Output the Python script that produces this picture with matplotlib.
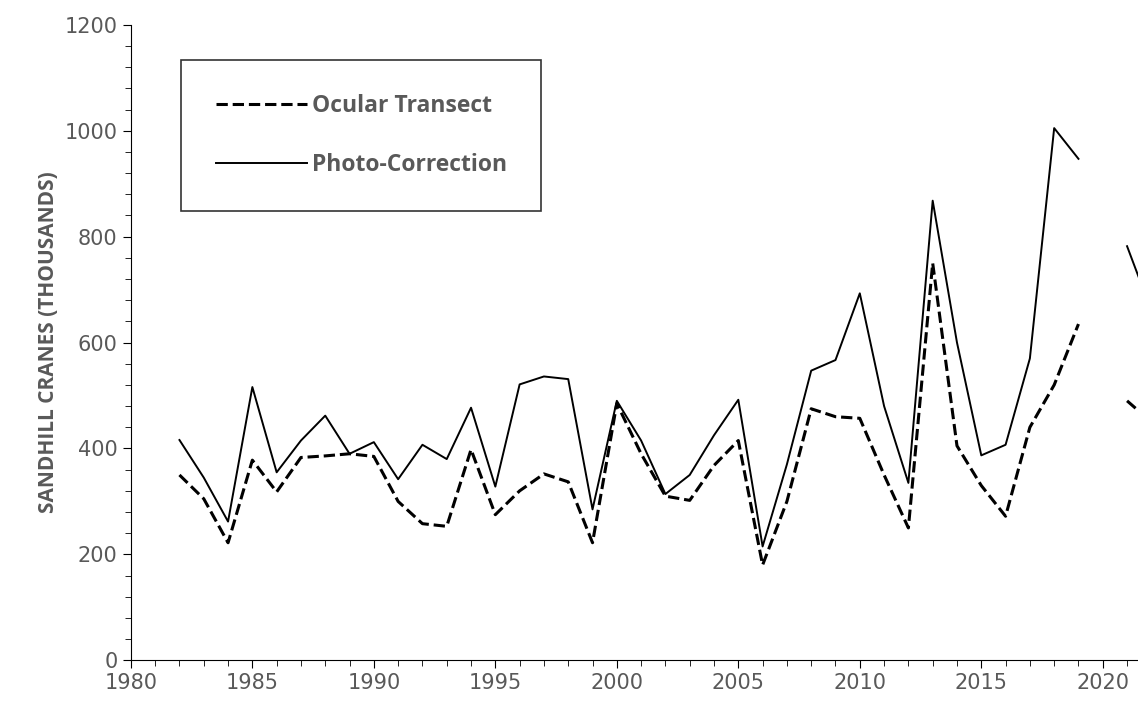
import matplotlib.pyplot as plt
import numpy as np
import matplotlib.ticker as ticker

years = np.arange(1982, 2023)
photo = [416, 345, 262, 516, 355, 415, 462, 390, 412, 342, 407, 380, 477, 328, 521, 536, 531, 285,
         490, 415, 314, 350, 425, 492, 215, 370, 547, 567, 693, 480, 335, 868, 600, 387, 407, 570,
         1005, 947, np.nan, 782, 660]
ocular = [350, 305, 222, 378, 318, 383, 386, 390, 385, 300, 258, 253, 398, 275, 320, 352, 337, 222,
          485, 390, 310, 302, 368, 415, 180, 300, 475, 460, 457, 350, 250, 750, 405, 330, 272, 440,
          520, 635, np.nan, 490, 450]

fig = plt.figure(figsize=(11.38, 7.10), dpi=100)
ax = fig.add_axes([0.115, 0.07, 0.885, 0.895])
ax.plot(years, ocular, 'k--', lw=2.2, label='Ocular Transect')
ax.plot(years, photo, 'k-', lw=1.4, label='Photo-Correction')
ax.set_xlim(1980, 2021.45)
ax.set_ylim(0, 1200)
ax.xaxis.set_major_locator(ticker.MultipleLocator(5))
ax.xaxis.set_minor_locator(ticker.MultipleLocator(1))
ax.yaxis.set_major_locator(ticker.MultipleLocator(200))
ax.yaxis.set_minor_locator(ticker.MultipleLocator(40))
for s in ['top', 'right']:
    ax.spines[s].set_visible(False)
ax.tick_params(which='both', direction='out', labelsize=15, labelcolor='#595959', color='black')
ax.tick_params(which='major', length=6)
ax.tick_params(which='minor', length=4)
ax.set_ylabel('SANDHILL CRANES (THOUSANDS)', fontsize=15, color='#595959', fontweight='bold',
              family='Open Sans')
leg = ax.legend(loc='upper left', bbox_to_anchor=(0.05, 0.945), frameon=True,
                fancybox=False, edgecolor='black', borderpad=1.5, labelspacing=1.5,
                handlelength=4.0, handletextpad=0.2, borderaxespad=0,
                prop={'weight': 'bold', 'size': 16.5, 'family': 'Open Sans'})
leg.get_frame().set_linewidth(1.2)
for t in leg.get_texts():
    t.set_color('#595959')
fig.savefig('out.png', dpi=100)
